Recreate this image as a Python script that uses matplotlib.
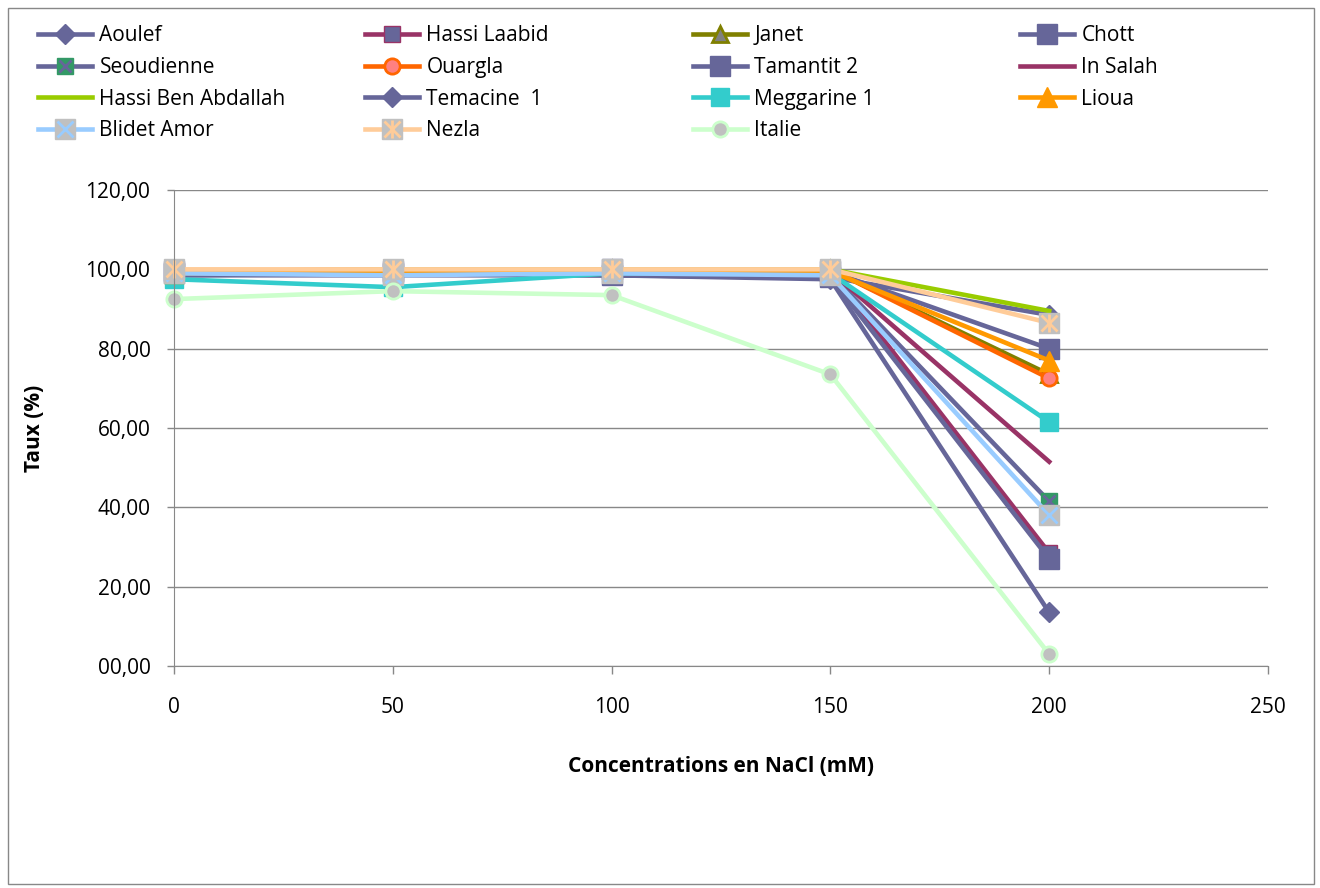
import matplotlib
matplotlib.use("Agg")
import matplotlib.pyplot as plt
from matplotlib.patches import Rectangle
from matplotlib.legend_handler import HandlerTuple

plt.rcParams['font.family'] = ['Open Sans', 'DejaVu Sans']

conc = [0, 50, 100, 150, 200]

aoulef = [99, 99, 98.5, 98, 88.5]
hassi_laabid = [99.5, 100, 100, 99.5, 28.5]
janet = [99, 99.5, 100, 100, 73.5]
chott = [99.5, 99.5, 100, 99.5, 80]
seoudienne = [98.5, 99, 99.5, 99, 41.5]
ouargla = [99.5, 100, 100, 100, 72.5]
tamantit2 = [99, 99, 98.5, 98, 27]
in_salah = [99, 99.5, 99.5, 99.5, 51.5]
hassi_ben_abdallah = [99.5, 100, 100, 100, 89.5]
temacine1 = [98.5, 98.5, 98.5, 97.5, 13.5]
meggarine1 = [97.5, 95.5, 99, 99, 61.5]
lioua = [99, 99.5, 99.5, 99.5, 77]
blidet_amor = [99, 98.5, 99, 98.5, 38]
nezla = [100, 100, 100, 100, 86.5]
italie = [92.5, 94.5, 93.5, 73.5, 3]

purple = '#666699'
lw = 3.3
ms = 11

fig = plt.figure(figsize=(13.2, 8.88), dpi=100)
ax = fig.add_axes([174 / 1320, 1 - 666 / 888, (1268 - 174) / 1320, (666 - 190) / 888])

h = {}
h['Aoulef'] = ax.plot(conc, aoulef, color=purple, lw=lw, marker='D', ms=10, mfc=purple, mec=purple)[0]
h['Hassi Laabid'] = ax.plot(conc, hassi_laabid, color='#993366', lw=lw, marker='s', ms=ms, mfc=purple, mec='#993366')[0]
h['Janet'] = ax.plot(conc, janet, color='#808000', lw=lw, marker='^', ms=ms, mfc='#808080', mec='#808000', mew=2)[0]
h['Chott'] = ax.plot(conc, chott, color=purple, lw=lw, marker='s', ms=ms + 3, mfc=purple, mec=purple)[0]
l1 = ax.plot(conc, seoudienne, color=purple, lw=lw, marker='s', ms=ms, mfc='#339966', mec='#339966')[0]
l2 = ax.plot(conc, seoudienne, ls='none', marker='x', ms=ms - 2, mec=purple, mew=2)[0]
h['Seoudienne'] = (l1, l2)
h['Ouargla'] = ax.plot(conc, ouargla, color='#FF6600', lw=lw, marker='o', ms=ms, mfc='#FF8080', mec='#FF6600', mew=2)[0]
h['Tamantit 2'] = ax.plot(conc, tamantit2, color=purple, lw=lw, marker='s', ms=ms + 3, mfc=purple, mec=purple)[0]
h['In Salah'] = ax.plot(conc, in_salah, color='#993366', lw=lw)[0]
h['Hassi Ben Abdallah'] = ax.plot(conc, hassi_ben_abdallah, color='#99CC00', lw=lw)[0]
h['Temacine  1'] = ax.plot(conc, temacine1, color=purple, lw=lw, marker='D', ms=10, mfc=purple, mec=purple)[0]
h['Meggarine 1'] = ax.plot(conc, meggarine1, color='#33CCCC', lw=lw, marker='s', ms=ms + 2, mfc='#33CCCC', mec='#33CCCC')[0]
h['Lioua'] = ax.plot(conc, lioua, color='#FF9900', lw=lw, marker='^', ms=ms + 3, mfc='#FF9900', mec='#FF9900')[0]
l1 = ax.plot(conc, blidet_amor, color='#99CCFF', lw=lw, marker='s', ms=ms + 3, mfc='#C0C0C0', mec='#C0C0C0')[0]
l2 = ax.plot(conc, blidet_amor, ls='none', marker='x', ms=ms, mec='#99CCFF', mew=2)[0]
h['Blidet Amor'] = (l1, l2)
l1 = ax.plot(conc, nezla, color='#FFCC99', lw=lw, marker='s', ms=ms + 3, mfc='#C0C0C0', mec='#C0C0C0')[0]
l2 = ax.plot(conc, nezla, ls='none', marker='x', ms=ms, mec='#FFCC99', mew=2)[0]
l3 = ax.plot(conc, nezla, ls='none', marker='|', ms=ms + 2, mec='#FFCC99', mew=2)[0]
h['Nezla'] = (l1, l2, l3)
h['Italie'] = ax.plot(conc, italie, color='#CCFFCC', lw=lw, marker='o', ms=ms, mfc='#C0C0C0', mec='#CCFFCC', mew=2)[0]

ax.set_xlim(0, 250)
ax.set_ylim(0, 120)
ax.set_xticks([0, 50, 100, 150, 200, 250])
ax.set_yticks([0, 20, 40, 60, 80, 100, 120])
ax.set_yticklabels([f"{v:05.2f}".replace('.', ',') for v in ax.get_yticks()])
ax.tick_params(labelsize=15, colors='black', length=5, width=1, color='#888888')
ax.tick_params(axis='x', length=6, pad=16)
ax.tick_params(axis='y', pad=12)
ax.yaxis.grid(True, color='#888888', lw=1)
ax.set_axisbelow(True)
for s in ['top', 'right']:
    ax.spines[s].set_visible(False)
for s in ['left', 'bottom']:
    ax.spines[s].set_color('#888888')
for line in ax.lines:
    line.set_clip_on(False)

ax.set_xlabel('Concentrations en NaCl (mM)', fontsize=15, fontweight='bold', labelpad=28)
ax.set_ylabel('Taux (%)', fontsize=15, fontweight='bold', labelpad=29)

# legend laid out in four columns, row by row
names = list(h.keys())
cols = [names[i::4] for i in range(4)]
col_x = [38, 365, 693, 1020]
for cx, cnames in zip(col_x, cols):
    fig.legend([h[n] for n in cnames], cnames, loc='upper left',
               bbox_to_anchor=(cx / 1320, 1 - 25 / 888), frameon=False, borderpad=0,
               borderaxespad=0, fontsize=15, handlelength=2.6, handletextpad=0.35,
               labelspacing=0.52, handler_map={tuple: HandlerTuple(ndivide=1)})

fig.patches.append(Rectangle((8 / 1320, 4 / 888), 1306 / 1320, 876 / 888,
                             transform=fig.transFigure, fill=False, edgecolor='#888888', lw=1))

fig.savefig('out.png', dpi=100)
